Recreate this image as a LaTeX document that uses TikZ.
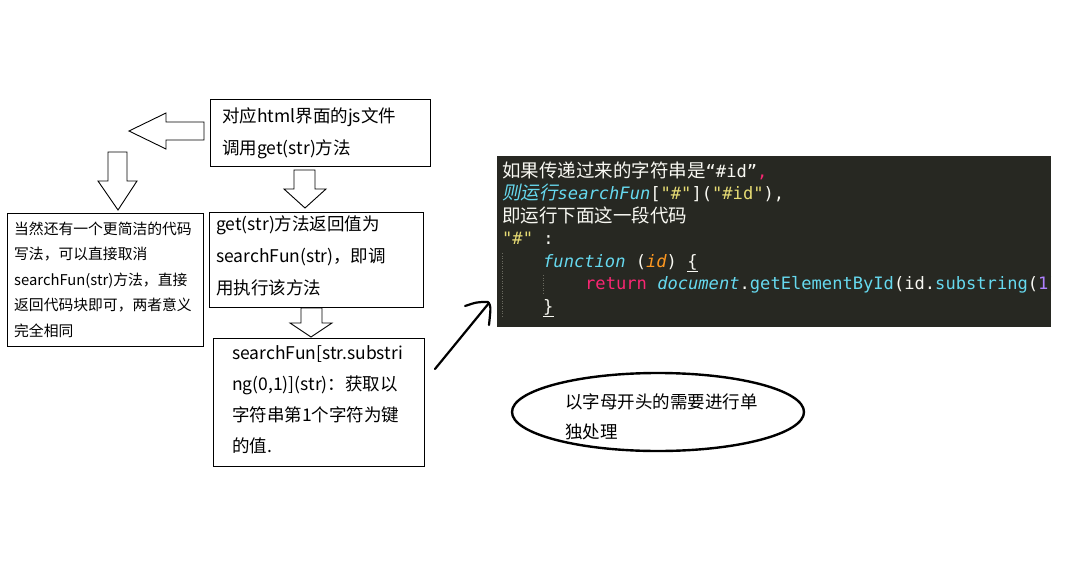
\documentclass[tikz,border=0pt]{standalone}
\usepackage{fontspec}
\setmainfont{Noto Sans CJK SC}
\newfontfamily\cjkfont{Noto Sans CJK SC}
\newfontfamily\cjkslant[FakeSlant=0.2]{Noto Sans CJK SC}
\newfontfamily\codefont{DejaVu Sans Mono}
\usetikzlibrary{shapes.geometric}
\definecolor{codebg}{HTML}{272822}
\definecolor{mwhite}{HTML}{F8F8F2}
\definecolor{mpink}{HTML}{F92672}
\definecolor{mblue}{HTML}{66D9EF}
\definecolor{myellow}{HTML}{E6DB74}
\definecolor{morange}{HTML}{FD971F}
\definecolor{mpurple}{HTML}{AE81FF}
\definecolor{mguide}{HTML}{6A6A60}
\newcommand\cjkcode{\cjkfont\fontsize{18.5}{20}\selectfont}
\newcommand\cjkcodeit{\cjkslant\fontsize{18.5}{20}\selectfont}
\tikzset{
  box/.style={draw, line width=0.9pt, inner sep=0pt, anchor=north west},
  txt/.style={anchor=west, align=left, inner sep=0pt, font=\fontsize{17.5}{32}\selectfont},
  blockarrow/.style={draw, line width=0.9pt, fill=white, line join=miter},
  codeline/.style={anchor=base west, inner sep=0pt, text=mwhite, font=\codefont\fontsize{17.1}{20}\selectfont},
  guide/.style={draw=mguide, line width=0.8pt, dash pattern=on 1pt off 1.5pt},
  hand/.style={line width=2.2pt, line cap=round, line join=round}
}
\begin{document}
\begin{tikzpicture}[x=1pt,y=-1pt]
\useasboundingbox[fill=white] (0,0) rectangle (1080,565);

% boxes
\node[box, minimum width=220, minimum height=67] (a) at (210,99) {};
\node[txt] (atext) at (222,133) {对应html界面的js文件\\调用get(str)方法};

\node[box, minimum width=214, minimum height=95] (b) at (209,212) {};
\node[txt] (btext) at (216,256) {get(str)方法返回值为\\searchFun(str)，即调\\用执行该方法};

\node[box, minimum width=196, minimum height=133] (c) at (7,213) {};
\node[txt, font=\fontsize{14.8}{25.5}\selectfont] (ctext) at (14,279.5) {当然还有一个更简洁的代码\\写法，可以直接取消\\searchFun(str)方法，直接\\返回代码块即可，两者意义\\完全相同};

\node[box, minimum width=211, minimum height=128] (d) at (213,338) {};
\node[txt, font=\fontsize{17.5}{31}\selectfont] (dtext) at (232,400) {searchFun[str.substri\\ng(0,1)](str)：获取以\\字符串第1个字符为键\\的值.};

% hollow block arrows
\draw[blockarrow] (129,131) -- (166,113) -- (166,122) -- (204,122) -- (204,140) -- (166,140) -- (166,149) -- cycle;
\draw[blockarrow] (108,152) -- (127,152) -- (127,181) -- (137,181) -- (118,210) -- (98,181) -- (108,181) -- cycle;
\draw[blockarrow] (294,170) -- (315,170) -- (315,189) -- (326,189) -- (305,208) -- (284,189) -- (294,189) -- cycle;
\draw[blockarrow] (301,308) -- (322,308) -- (322,323) -- (332,323) -- (311,337) -- (290,323) -- (301,323) -- cycle;

% code panel
\fill[codebg] (497,156) rectangle (1051,327);
\begin{scope}
\clip (497,156) rectangle (1051,327);
\node[codeline] (l1) at (502,177) {{\cjkcode 如果传递过来的字符串是}“\#id”{\color{mpink},}};
\node[codeline] (l2) at (502,199.5) {{\cjkcodeit\color{mblue}则运行}{\itshape\color{mblue}searchFun}[{\color{myellow}"\#"}]({\color{myellow}"\#id"}),};
\node[codeline] (l3) at (502,222) {\cjkcode 即运行下面这一段代码};
\node[codeline] (l4) at (502,244.5) {{\color{myellow}"\#"} :};
\node[codeline] (l5) at (543,267) {{\itshape\color{mblue}function} ({\itshape\color{morange}id}) \underline{\{}};
\node[codeline] (l6) at (585,289.5) {{\color{mpink}return} {\itshape\color{mblue}document}.{\color{mblue}getElementById}(id.{\color{mblue}substring}({\color{mpurple}1})};
\node[codeline] (l7) at (543,312) {\underline{\}}};
\draw[guide] (502.5,253) -- (502.5,317);
\draw[guide] (543.5,275) -- (543.5,294);
\end{scope}

% hand-drawn arrow
\coordinate (hs) at (435,369);
\coordinate (he) at (489,303);
\draw[hand] (hs) -- (he);
\draw[hand] (465,306) .. controls (477,302) .. (488,302) .. controls (491,306) .. (489,325);

% ellipse
\node[ellipse, draw, line width=2.4pt, minimum width=292, minimum height=78, inner sep=0pt] (e) at (658,412) {};
\node[txt, font=\fontsize{17.5}{30}\selectfont] (etext) at (565,417) {以字母开头的需要进行单\\独处理};
\end{tikzpicture}
\end{document}
